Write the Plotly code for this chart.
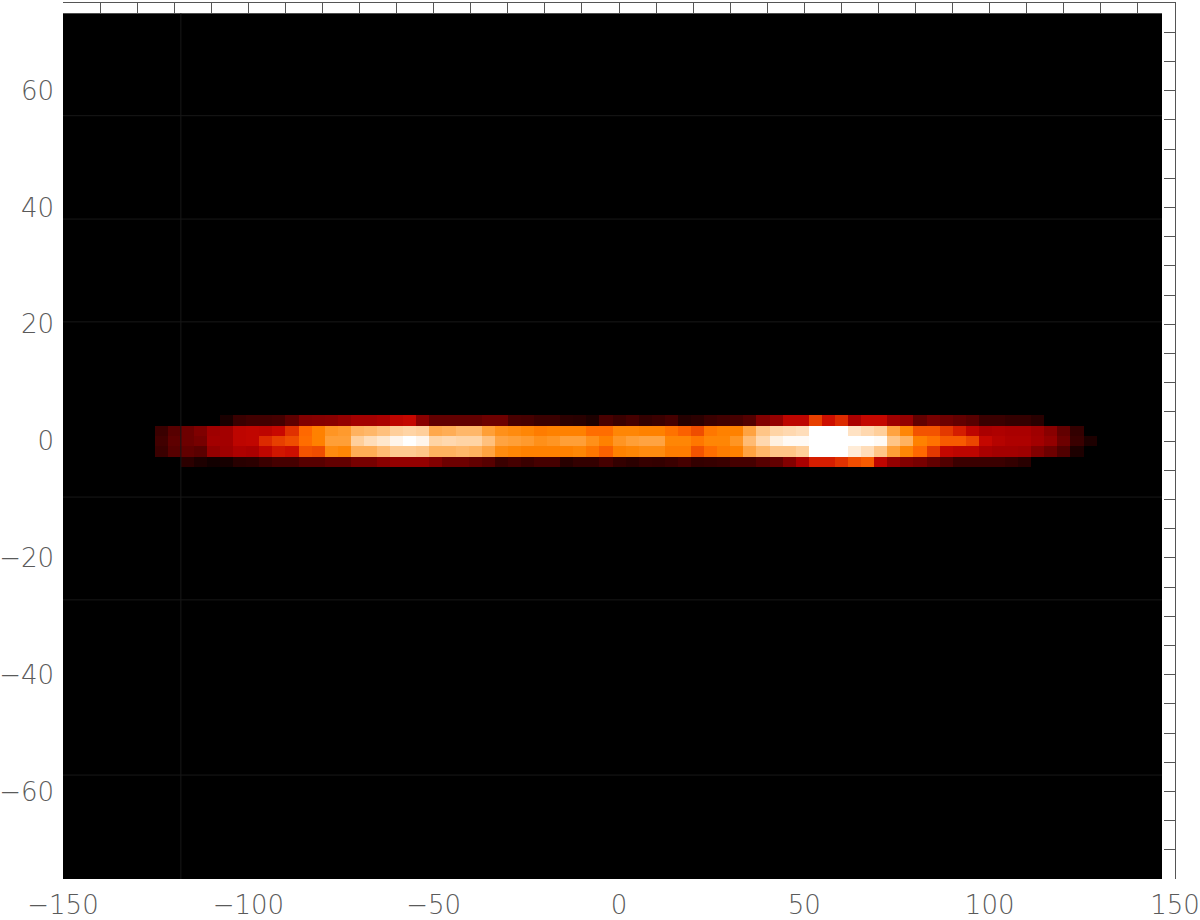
"""Recreate the glowing edge-on disc map: one black image with a thin hot band."""

import numpy as np
import plotly.graph_objects as go

# --- Data: the five lit rows, top to bottom, columns 7 to 78 of the 85 column grid ---

row_top = [
    0, 0, 0, 0, 0, 7, 16, 18, 18, 19, 26, 36, 37, 38, 41, 45, 45, 47,
    52, 54, 38, 27, 27, 27, 27, 30, 30, 20, 19, 16, 16, 12, 11, 8, 20, 16,
    19, 14, 16, 19, 10, 12, 16, 18, 19, 23, 36, 41, 52, 52, 63, 56, 60, 47,
    54, 54, 44, 41, 27, 33, 30, 27, 24, 16, 16, 14, 14, 11, 0, 0, 0, 0,
]
row_upper = [
    16, 24, 30, 35, 44, 45, 52, 53, 52, 55, 61, 69, 74, 78, 79, 84, 85, 87,
    90, 91, 90, 82, 83, 85, 85, 80, 77, 76, 75, 73, 74, 74, 74, 70, 70, 75,
    75, 74, 74, 71, 68, 65, 72, 74, 74, 81, 88, 91, 92, 93, 100, 100, 100, 94,
    92, 90, 81, 75, 66, 66, 62, 58, 52, 47, 48, 47, 47, 44, 38, 27, 14, 0,
]
row_middle = [
    18, 26, 30, 33, 45, 45, 52, 53, 60, 63, 65, 70, 74, 80, 80, 90, 93, 95,
    98, 100, 98, 91, 92, 91, 91, 87, 81, 80, 79, 77, 78, 80, 80, 77, 74, 78,
    80, 81, 81, 75, 75, 72, 75, 75, 78, 86, 92, 97, 99, 99, 100, 100, 100, 100,
    100, 99, 88, 84, 74, 71, 67, 67, 64, 54, 50, 48, 48, 45, 41, 30, 16, 8,
]
row_lower = [
    16, 24, 27, 25, 41, 44, 48, 47, 53, 57, 56, 66, 65, 76, 75, 83, 83, 86,
    89, 89, 88, 84, 84, 85, 84, 81, 76, 75, 74, 74, 74, 74, 75, 72, 68, 74,
    75, 76, 76, 73, 73, 66, 70, 73, 74, 81, 85, 88, 88, 90, 100, 100, 100, 96,
    93, 88, 80, 75, 69, 62, 54, 52, 52, 47, 45, 45, 44, 36, 30, 22, 8, 0,
]
row_bottom = [
    0, 0, 12, 8, 5, 6, 11, 12, 16, 19, 19, 24, 24, 27, 27, 33, 33, 38,
    41, 41, 41, 36, 30, 30, 27, 24, 16, 19, 16, 19, 19, 11, 14, 14, 19, 14,
    12, 15, 14, 16, 19, 14, 15, 16, 19, 19, 24, 27, 36, 47, 58, 58, 61, 65,
    67, 52, 41, 36, 33, 27, 22, 16, 16, 16, 16, 14, 11, 0, 0, 0, 0, 0,
]

x_labels = [-150, -100, -50, 0, 50, 100, 150]
y_labels = [-60, -40, -20, 0, 20, 40, 60]

# Faint seams in the black area of the image
seam_y = [55.7, 38.0, 20.4, -9.6, -27.2, -57.2]
seam_x = [-118.2]

# --- Grid ---

N_CELLS = 85
X_MIN, X_MAX = -150, 150
Y_MIN, Y_MAX = -75, 75
FIRST_COL = 7
FIRST_ROW = 40

z = np.zeros((N_CELLS - 1, N_CELLS - 1))
band = [row_bottom, row_lower, row_middle, row_upper, row_top]
for i, row in enumerate(band):
    z[FIRST_ROW + i, FIRST_COL:FIRST_COL + len(row)] = row

dx = (X_MAX - X_MIN) / N_CELLS
dy = (Y_MAX - Y_MIN) / N_CELLS
x_right = X_MIN + dx * (N_CELLS - 1)
y_top = Y_MIN + dy * (N_CELLS - 1)

# Red temperature colour table
red_temp = [
    [0.0, "rgb(0,0,0)"],
    [0.47, "rgb(170,0,0)"],
    [0.55, "rgb(200,8,0)"],
    [0.69, "rgb(255,104,0)"],
    [0.745, "rgb(255,132,0)"],
    [1.0, "rgb(255,255,255)"],
]

SEAM_COLOR = "#181818"
FRAME_COLOR = "#555555"
TEXT_COLOR = "#5a5a5a"
tick_font = dict(family="DejaVu Sans ExtraLight, DejaVu Sans", size=26, color=TEXT_COLOR, weight=200)

# --- Figure ---

fig = go.Figure()

fig.add_trace(go.Heatmap(
    z=z,
    x0=X_MIN + dx / 2,
    dx=dx,
    y0=Y_MIN + dy / 2,
    dy=dy,
    colorscale=red_temp,
    zmin=0,
    zmax=100,
    showscale=False,
    hoverinfo="skip",
))

for y in seam_y:
    fig.add_trace(go.Scatter(
        x=[X_MIN, x_right], y=[y, y], mode="lines",
        line=dict(color=SEAM_COLOR, width=1),
        xaxis="x2", yaxis="y2", showlegend=False, hoverinfo="skip",
    ))
for x in seam_x:
    fig.add_trace(go.Scatter(
        x=[x, x], y=[Y_MIN, y_top], mode="lines",
        line=dict(color=SEAM_COLOR, width=1),
        xaxis="x2", yaxis="y2", showlegend=False, hoverinfo="skip",
    ))

fig.update_layout(
    width=1200,
    height=920,
    autosize=False,
    margin=dict(l=62.5, r=24.5, t=3, b=41, autoexpand=False),
    paper_bgcolor="white",
    plot_bgcolor="white",
    showlegend=False,
    xaxis=dict(
        range=[X_MIN, X_MAX], tickmode="array", tickvals=x_labels,
        ticks="", showgrid=False, zeroline=False, showline=False,
        tickfont=tick_font, tickangle=0, ticklabelstandoff=8,
    ),
    yaxis=dict(
        range=[Y_MIN, Y_MAX], tickmode="array", tickvals=y_labels,
        ticks="", showgrid=False, zeroline=False, showline=False,
        tickfont=tick_font, ticklabelstandoff=8,
    ),
    xaxis2=dict(
        range=[X_MIN, X_MAX], overlaying="x", side="top", anchor="y2",
        dtick=10, tick0=-150, ticks="inside", ticklen=10, tickwidth=1, tickcolor=FRAME_COLOR,
        showticklabels=False, showgrid=False, zeroline=False,
        showline=True, linecolor=FRAME_COLOR, linewidth=1,
    ),
    yaxis2=dict(
        range=[Y_MIN, Y_MAX], overlaying="y", side="right", anchor="x2",
        dtick=5, tick0=-75, ticks="inside", ticklen=11, tickwidth=1, tickcolor=FRAME_COLOR,
        showticklabels=False, showgrid=False, zeroline=False,
        showline=True, linecolor=FRAME_COLOR, linewidth=1,
    ),
)

fig.write_html(
    "out.html",
    config=dict(displayModeBar=False),
    post_script="document.body.style.margin='0';",
)
